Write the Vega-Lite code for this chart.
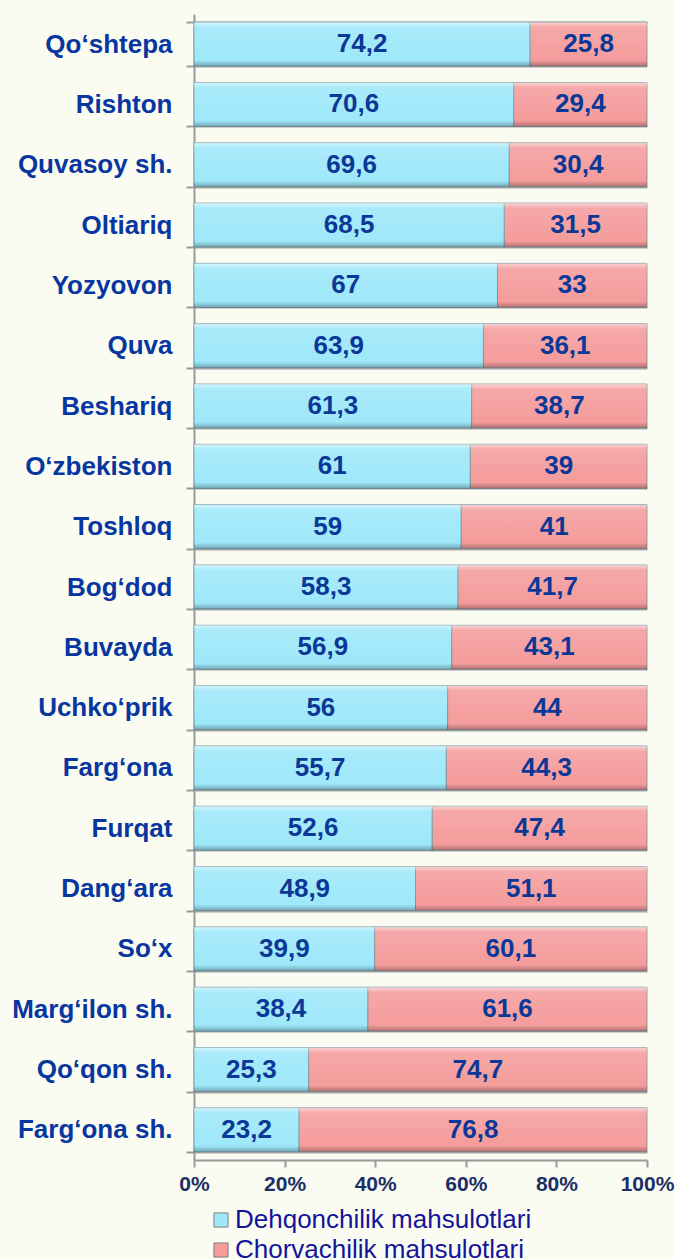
{
  "$schema": "https://vega.github.io/schema/vega-lite/v6.json",
  "width": 453,
  "height": 1146,
  "autosize": {"type": "none"},
  "padding": {"left": 194, "top": 14, "right": 28, "bottom": 99},
  "background": "#fafcf2",
  "config": {"view": {"stroke": null}, "font": "Liberation Sans"},
  "data": {
    "values": [
      {"region": "Qo‘shtepa", "type": "Dehqonchilik mahsulotlari", "value": 74.2},
      {"region": "Qo‘shtepa", "type": "Chorvachilik mahsulotlari", "value": 25.8},
      {"region": "Rishton", "type": "Dehqonchilik mahsulotlari", "value": 70.6},
      {"region": "Rishton", "type": "Chorvachilik mahsulotlari", "value": 29.4},
      {"region": "Quvasoy sh.", "type": "Dehqonchilik mahsulotlari", "value": 69.6},
      {"region": "Quvasoy sh.", "type": "Chorvachilik mahsulotlari", "value": 30.4},
      {"region": "Oltiariq", "type": "Dehqonchilik mahsulotlari", "value": 68.5},
      {"region": "Oltiariq", "type": "Chorvachilik mahsulotlari", "value": 31.5},
      {"region": "Yozyovon", "type": "Dehqonchilik mahsulotlari", "value": 67},
      {"region": "Yozyovon", "type": "Chorvachilik mahsulotlari", "value": 33},
      {"region": "Quva", "type": "Dehqonchilik mahsulotlari", "value": 63.9},
      {"region": "Quva", "type": "Chorvachilik mahsulotlari", "value": 36.1},
      {"region": "Beshariq", "type": "Dehqonchilik mahsulotlari", "value": 61.3},
      {"region": "Beshariq", "type": "Chorvachilik mahsulotlari", "value": 38.7},
      {"region": "O‘zbekiston", "type": "Dehqonchilik mahsulotlari", "value": 61},
      {"region": "O‘zbekiston", "type": "Chorvachilik mahsulotlari", "value": 39},
      {"region": "Toshloq", "type": "Dehqonchilik mahsulotlari", "value": 59},
      {"region": "Toshloq", "type": "Chorvachilik mahsulotlari", "value": 41},
      {"region": "Bog‘dod", "type": "Dehqonchilik mahsulotlari", "value": 58.3},
      {"region": "Bog‘dod", "type": "Chorvachilik mahsulotlari", "value": 41.7},
      {"region": "Buvayda", "type": "Dehqonchilik mahsulotlari", "value": 56.9},
      {"region": "Buvayda", "type": "Chorvachilik mahsulotlari", "value": 43.1},
      {"region": "Uchko‘prik", "type": "Dehqonchilik mahsulotlari", "value": 56},
      {"region": "Uchko‘prik", "type": "Chorvachilik mahsulotlari", "value": 44},
      {"region": "Farg‘ona", "type": "Dehqonchilik mahsulotlari", "value": 55.7},
      {"region": "Farg‘ona", "type": "Chorvachilik mahsulotlari", "value": 44.3},
      {"region": "Furqat", "type": "Dehqonchilik mahsulotlari", "value": 52.6},
      {"region": "Furqat", "type": "Chorvachilik mahsulotlari", "value": 47.4},
      {"region": "Dang‘ara", "type": "Dehqonchilik mahsulotlari", "value": 48.9},
      {"region": "Dang‘ara", "type": "Chorvachilik mahsulotlari", "value": 51.1},
      {"region": "So‘x", "type": "Dehqonchilik mahsulotlari", "value": 39.9},
      {"region": "So‘x", "type": "Chorvachilik mahsulotlari", "value": 60.1},
      {"region": "Marg‘ilon sh.", "type": "Dehqonchilik mahsulotlari", "value": 38.4},
      {"region": "Marg‘ilon sh.", "type": "Chorvachilik mahsulotlari", "value": 61.6},
      {"region": "Qo‘qon sh.", "type": "Dehqonchilik mahsulotlari", "value": 25.3},
      {"region": "Qo‘qon sh.", "type": "Chorvachilik mahsulotlari", "value": 74.7},
      {"region": "Farg‘ona sh.", "type": "Dehqonchilik mahsulotlari", "value": 23.2},
      {"region": "Farg‘ona sh.", "type": "Chorvachilik mahsulotlari", "value": 76.8}
    ]
  },
  "transform": [
    {"stack": "value", "groupby": ["region"], "sort": [{"field": "type", "order": "descending"}], "as": ["v0", "v1"]},
    {"calculate": "(datum.v0 + datum.v1) / 2", "as": "mid"},
    {"calculate": "replace(toString(datum.value), '.', ',')", "as": "label"}
  ],
  "encoding": {
    "y": {
      "field": "region",
      "type": "nominal",
      "sort": null,
      "scale": {"paddingInner": 0.27, "paddingOuter": 0.135},
      "axis": {
        "title": null,
        "labelFont": "Liberation Sans",
        "labelFontSize": 26,
        "labelFontWeight": "bold",
        "labelColor": "#0836a0",
        "labelPadding": 14,
        "labelLimit": 300,
        "tickBand": "extent",
        "tickSize": 8,
        "tickColor": "#9a9a9a",
        "tickWidth": 2,
        "domainColor": "#9a9a9a",
        "domainWidth": 2,
        "grid": true,
        "gridColor": "#a6a6a6",
        "gridWidth": 2
      }
    }
  },
  "layer": [
    {
      "mark": {"type": "bar", "stroke": "#6f8f99", "strokeWidth": 0.8},
      "encoding": {
        "x": {
          "field": "v0",
          "type": "quantitative",
          "scale": {"domain": [0, 100], "nice": false},
          "axis": {
            "title": null,
            "values": [0, 20, 40, 60, 80, 100],
            "labelExpr": "datum.value + '%'",
            "labelFont": "Liberation Sans",
            "labelFontSize": 21,
            "labelFontWeight": "bold",
            "labelColor": "#1b2f66",
            "labelFlush": false,
            "labelOverlap": false,
            "labelPadding": 6,
            "tickColor": "#9a9a9a",
            "tickSize": 7,
            "tickWidth": 2,
            "domainColor": "#9a9a9a",
            "domainWidth": 2,
            "grid": false
          }
        },
        "x2": {"field": "v1"},
        "color": {
          "field": "type",
          "type": "nominal",
          "scale": {
            "domain": ["Dehqonchilik mahsulotlari", "Chorvachilik mahsulotlari"],
            "range": ["#9ee8fa", "#f59c9c"]
          },
          "legend": {
            "title": null,
            "orient": "none",
            "legendX": 14,
            "legendY": 1193,
            "padding": 0,
            "symbolType": "square",
            "symbolSize": 200,
            "symbolStrokeColor": "#7f7f7f",
            "symbolStrokeWidth": 1,
            "labelFont": "Liberation Sans",
            "labelFontSize": 26,
            "labelColor": "#14149a",
            "labelOffset": 1,
            "rowPadding": 4,
            "labelLimit": 500
          }
        }
      }
    },
    {
      "mark": {
        "type": "bar",
        "fill": {
          "gradient": "linear",
          "x1": 0, "y1": 0, "x2": 0, "y2": 1,
          "stops": [
            {"offset": 0, "color": "rgba(255,255,255,0.55)"},
            {"offset": 0.12, "color": "rgba(255,255,255,0.12)"},
            {"offset": 0.84, "color": "rgba(255,255,255,0)"},
            {"offset": 0.9, "color": "rgba(0,0,0,0.08)"},
            {"offset": 1, "color": "rgba(0,0,0,0.28)"}
          ]
        }
      },
      "encoding": {
        "x": {"field": "v0", "type": "quantitative"},
        "x2": {"field": "v1"}
      }
    },
    {
      "mark": {"type": "text", "font": "Liberation Sans", "fontSize": 26, "fontWeight": "bold", "color": "#0b3896", "baseline": "middle", "align": "center"},
      "encoding": {
        "x": {"field": "mid", "type": "quantitative"},
        "text": {"field": "label", "type": "nominal"}
      }
    }
  ]
}
